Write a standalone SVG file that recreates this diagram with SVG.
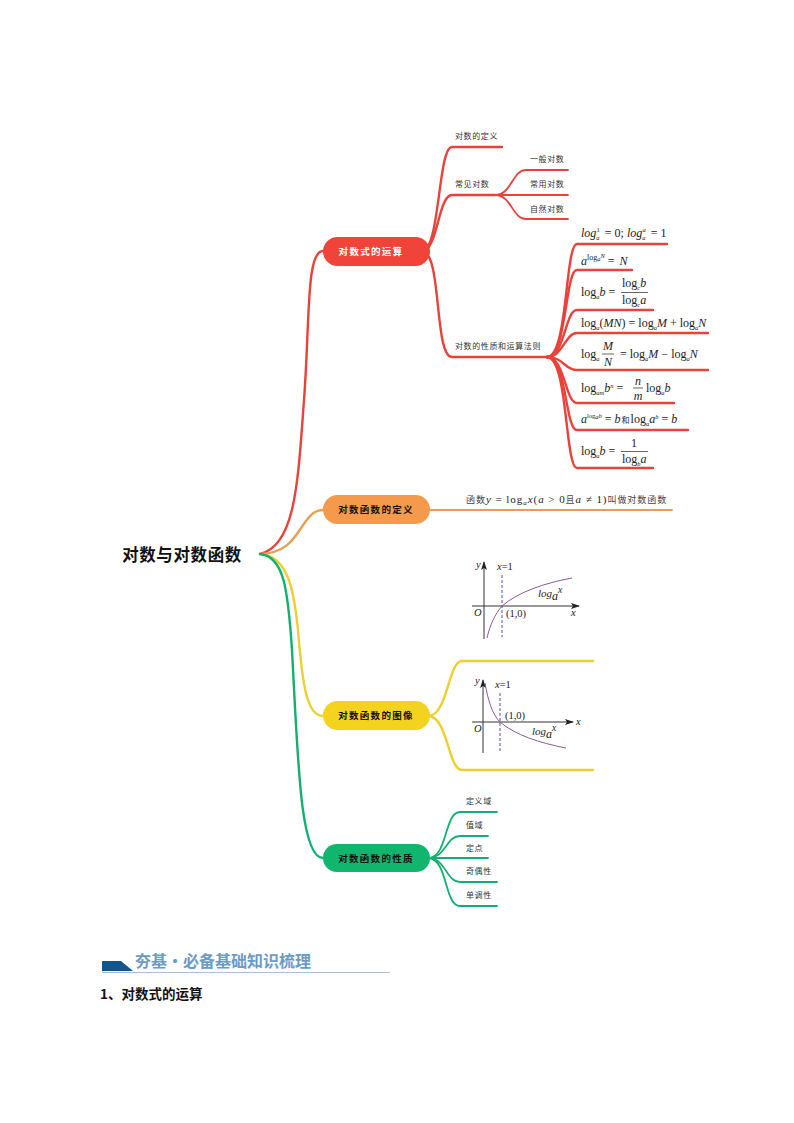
<svg xmlns="http://www.w3.org/2000/svg" width="794" height="1123" viewBox="0 0 794 1123">
<style>
text{font-family:"Noto Sans CJK SC","Liberation Sans",sans-serif;fill:#222}
.lb{font-size:8px;letter-spacing:.6px;fill:#333}
.nd{font-size:9.5px;font-weight:700;text-anchor:middle;letter-spacing:1.3px;fill:#111}
.c{fill:none;stroke-linecap:round}
.r{stroke:#e8423a}.o{stroke:#e5a050}.y{stroke:#edd030}.g{stroke:#12b070}
.w3{stroke-width:2.4}.w2{stroke-width:1.8}
.m{font-family:"Liberation Serif",serif;font-size:12px;fill:#222}
.i{font-style:italic}
.s{font-size:8px}.t{font-size:6.5px}
.ax{stroke:#333;stroke-width:1;fill:none}
.da{stroke:#5050b0;stroke-width:1;stroke-dasharray:3 2;fill:none}
.cv{stroke:#8a5a9a;stroke-width:1;fill:none}
.gt{font-family:"Liberation Serif",serif;font-size:10.5px;fill:#222}
.fr{stroke:#222;stroke-width:.7}
</style>
<defs><marker id="ah" markerWidth="9" markerHeight="6" refX="8" refY="3" orient="auto"><path d="M0,0L9,3L0,6L2,3Z" fill="#222"/></marker></defs>

<g id="connectors">
<path class="c r w3" d="M260,554C296,546 298,480 304,400C310,320 306,251 323,251"/>
<path class="c o w3" d="M260,554C290,553 296,534 306,521C312,513 316,510 323,510"/>
<path class="c y w3" d="M260,554C288,556 294,590 298,630C302,680 306,716 323,716"/>
<path class="c g w3" d="M260,554C284,556 288,590 292,650C298,760 300,858 323,858"/>
<path class="c r w3" d="M422,251C440,251 438,147 452,147H502"/>
<path class="c r w3" d="M422,251C438,251 438,195 452,195H495"/>
<path class="c r w3" d="M422,251C442,251 434,357 452,357H547"/>
<path class="c r w2" d="M495,195C512,195 512,170 526,170H568"/>
<path class="c r w2" d="M495,195H568"/>
<path class="c r w2" d="M495,195C512,195 512,219 526,219H568"/>
<path class="c r w3" d="M547,357C568,357 565,244 577,244H667"/>
<path class="c r w3" d="M547,357C567,357 565,270 577,270H632"/>
<path class="c r w3" d="M547,357C565,357 565,310 577,310H653"/>
<path class="c r w3" d="M547,357C563,357 565,333 577,333H708"/>
<path class="c r w3" d="M547,357C563,357 565,370 577,370H708"/>
<path class="c r w3" d="M547,357C565,357 565,403 577,403H674"/>
<path class="c r w3" d="M547,357C567,357 565,430 577,430H688"/>
<path class="c r w3" d="M547,357C568,357 565,468 577,468H653"/>
<path class="c o w2" d="M428,510H672"/>
<path class="c y w3" d="M428,716C448,716 448,661 462,661H593"/>
<path class="c y w3" d="M428,716C448,716 448,770 462,770H593"/>
<path class="c g w2" d="M428,858C448,858 444,812 460,812H497"/>
<path class="c g w2" d="M428,858C446,858 446,836 460,836H488"/>
<path class="c g w2" d="M428,858H488"/>
<path class="c g w2" d="M428,858C446,858 446,882 460,882H497"/>
<path class="c g w2" d="M428,858C448,858 444,906 460,906H497"/>
</g>

<g id="root"><text x="182" y="561" font-size="16.500" font-weight="700" text-anchor="middle" letter-spacing=".6" style="fill:#111">对数与对数函数</text></g>

<g id="n1"><rect x="323" y="237" width="107" height="29" rx="14.500" fill="#f0443a"/><text class="nd" x="371" y="254.500" style="fill:#fff">对数式的运算</text></g>
<g id="n2"><rect x="323" y="495" width="107" height="29" rx="14.500" fill="#f59a4a"/><text class="nd" x="376" y="513">对数函数的定义</text></g>
<g id="n3"><rect x="323" y="701" width="107" height="29" rx="14.500" fill="#f3d320"/><text class="nd" x="376" y="719">对数函数的图像</text></g>
<g id="n4"><rect x="323" y="844" width="107" height="28" rx="14" fill="#10b56e"/><text class="nd" x="376" y="862">对数函数的性质</text></g>

<g id="l1"><text class="lb" x="455" y="139">对数的定义</text></g>
<g id="l2"><text class="lb" x="455" y="187">常见对数</text></g>
<g id="l3"><text class="lb" x="455" y="349">对数的性质和运算法则</text></g>
<g id="l2a"><text class="lb" x="530" y="162">一般对数</text></g>
<g id="l2b"><text class="lb" x="530" y="187">常用对数</text></g>
<g id="l2c"><text class="lb" x="530" y="212">自然对数</text></g>

<g id="f1"><text class="m" x="581" y="237"><tspan class="i">log</tspan><tspan class="t i" dy="3">a</tspan><tspan class="t" dx="-3" dy="-8">1</tspan><tspan dx="2" dy="5"> = 0;  </tspan><tspan class="i">log</tspan><tspan class="t i" dy="3">a</tspan><tspan class="t i" dx="-3" dy="-8">a</tspan><tspan dx="2" dy="5"> = 1</tspan></text></g>
<g id="f2"><text class="m" x="581" y="265"><tspan class="i">a</tspan><tspan class="s" dy="-5">log</tspan><tspan class="t i" dy="1">a</tspan><tspan class="t i" dy="-3">N</tspan><tspan dy="7"> = </tspan><tspan class="i" dx="2">N</tspan></text></g>
<g id="f3"><text class="m" x="581" y="296">log<tspan class="t i" dy="3">a</tspan><tspan class="i" dy="-3">b</tspan> =</text><text class="m" x="622" y="287">log<tspan class="t i" dy="3">c</tspan><tspan class="i" dy="-3">b</tspan></text><line class="fr" x1="621" y1="292.500" x2="648" y2="292.500"/><text class="m" x="622" y="304">log<tspan class="t i" dy="3">c</tspan><tspan class="i" dy="-3">a</tspan></text></g>
<g id="f4"><text class="m" x="581" y="327">log<tspan class="t i" dy="3">a</tspan><tspan dy="-3">(</tspan><tspan class="i">MN</tspan>) = log<tspan class="t i" dy="3">a</tspan><tspan class="i" dy="-3">M</tspan> + log<tspan class="t i" dy="3">a</tspan><tspan class="i" dy="-3">N</tspan></text></g>
<g id="f5"><text class="m" x="581" y="358">log<tspan class="t i" dy="3">a</tspan></text><text class="m i" x="608" y="350" text-anchor="middle">M</text><line class="fr" x1="602" y1="354" x2="614" y2="354"/><text class="m i" x="608" y="366" text-anchor="middle">N</text><text class="m" x="620" y="358">= log<tspan class="t i" dy="3">a</tspan><tspan class="i" dy="-3">M</tspan> − log<tspan class="t i" dy="3">a</tspan><tspan class="i" dy="-3">N</tspan></text></g>
<g id="f6"><text class="m" x="581" y="392">log<tspan class="t i" dy="3">am</tspan><tspan class="i" dy="-3">b</tspan><tspan class="t i" dy="-4">n</tspan><tspan dy="4"> =</tspan></text><text class="m i" x="638" y="385" text-anchor="middle">n</text><line class="fr" x1="633" y1="388" x2="643" y2="388"/><text class="m i" x="638" y="400" text-anchor="middle">m</text><text class="m" x="646" y="392">log<tspan class="t i" dy="3">a</tspan><tspan class="i" dy="-3">b</tspan></text></g>
<g id="f7"><text class="m" x="581" y="423"><tspan class="i">a</tspan><tspan class="t" dy="-5">log</tspan><tspan class="t i" dy="1">a</tspan><tspan class="t i" dy="-1">b</tspan><tspan dy="5"> = </tspan><tspan class="i">b</tspan><tspan style="font-family:'Noto Sans CJK SC',sans-serif;font-size:8px" dx="1">和</tspan><tspan dx="1">log</tspan><tspan class="t i" dy="3">a</tspan><tspan class="i" dy="-3">a</tspan><tspan class="t i" dy="-4">b</tspan><tspan dy="4"> = </tspan><tspan class="i">b</tspan></text></g>
<g id="f8"><text class="m" x="581" y="455">log<tspan class="t i" dy="3">a</tspan><tspan class="i" dy="-3">b</tspan> =</text><text class="m" x="634" y="447" text-anchor="middle">1</text><line class="fr" x1="621" y1="451.500" x2="648" y2="451.500"/><text class="m" x="622" y="463">log<tspan class="t i" dy="3">b</tspan><tspan class="i" dy="-3">a</tspan></text></g>

<g id="def"><text x="466" y="503" font-size="9" letter-spacing=".95" style="fill:#444">函数<tspan class="m i" style="font-size:11px">y</tspan><tspan class="m" style="font-size:11px"> = log</tspan><tspan class="m i" style="font-size:7px" dy="2">a</tspan><tspan class="m i" style="font-size:11px" dy="-2">x</tspan><tspan class="m" style="font-size:11px">(</tspan><tspan class="m i" style="font-size:11px">a</tspan><tspan class="m" style="font-size:11px"> &gt; 0</tspan>且<tspan class="m i" style="font-size:11px">a</tspan><tspan class="m" style="font-size:11px"> ≠ 1)</tspan>叫做对数函数</text></g>

<g id="graph1">
<line class="ax" x1="484" y1="639" x2="484" y2="562" marker-end="url(#ah)"/>
<line class="ax" x1="472" y1="606" x2="579" y2="606" marker-end="url(#ah)"/>
<line class="da" x1="502" y1="575" x2="502" y2="637"/>
<path class="cv" d="M487,638C490,625 495,614 502,606C518,592 545,583 572,578"/>
<text class="gt i" x="476" y="568">y</text><text class="gt" x="497" y="570"><tspan class="i">x</tspan>=1</text>
<text class="gt i" x="474" y="616">O</text><text class="gt" x="506" y="617">(1,0)</text><text class="gt i" x="571" y="616">x</text>
<text class="gt i" x="538" y="597" style="font-size:11px">log<tspan dy="3" style="font-size:12px">a</tspan><tspan dy="-7" style="font-size:9.500px">x</tspan></text>
</g>
<g id="graph2">
<line class="ax" x1="483" y1="753" x2="483" y2="680" marker-end="url(#ah)"/>
<line class="ax" x1="472" y1="722" x2="573" y2="722" marker-end="url(#ah)"/>
<line class="da" x1="500" y1="693" x2="500" y2="751"/>
<path class="cv" d="M485,683C488,700 492,714 500,722C515,735 540,743 566,748"/>
<text class="gt i" x="475" y="684">y</text><text class="gt" x="495" y="688"><tspan class="i">x</tspan>=1</text>
<text class="gt i" x="474" y="732">O</text><text class="gt" x="505" y="719">(1,0)</text><text class="gt i" x="576" y="725">x</text>
<text class="gt i" x="532" y="735" style="font-size:11px">log<tspan dy="3" style="font-size:12px">a</tspan><tspan dy="-7" style="font-size:9.500px">x</tspan></text>
</g>

<g id="g1"><text class="lb" x="466" y="804">定义域</text></g>
<g id="g2"><text class="lb" x="466" y="828">值域</text></g>
<g id="g3"><text class="lb" x="466" y="851">定点</text></g>
<g id="g4"><text class="lb" x="466" y="874">奇偶性</text></g>
<g id="g5"><text class="lb" x="466" y="898">单调性</text></g>

<g id="header">
<path d="M102,971V961H121L133,971Z" fill="#11568c"/>
<line x1="102" y1="972.500" x2="390" y2="972.500" stroke="#a9c0d8" stroke-width="1"/>
<text x="135" y="967" font-size="16" font-weight="700" style="fill:#6c9ac6">夯基·必备基础知识梳理</text>
<text x="100" y="999" font-size="13.500" font-weight="700" style="fill:#111">1、对数式的运算</text>
</g>
</svg>
